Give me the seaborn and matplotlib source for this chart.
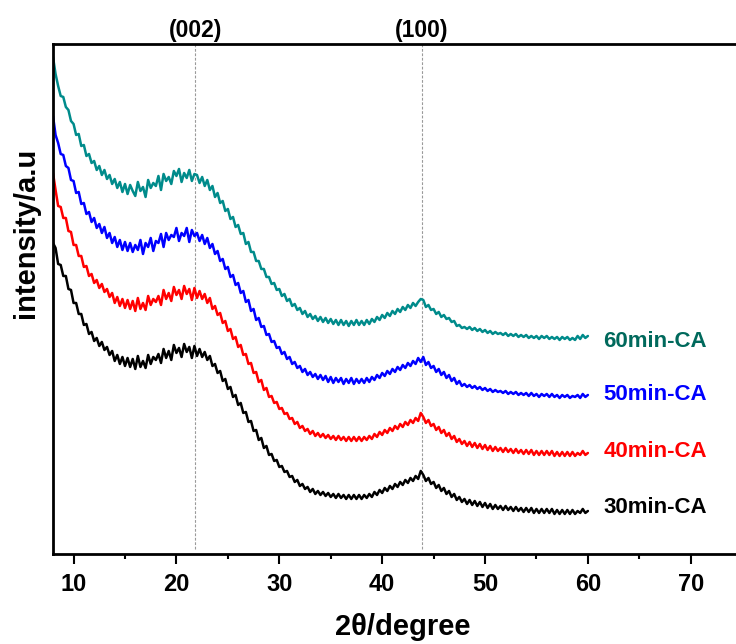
import numpy as np
import pandas as pd
import matplotlib
matplotlib.use("Agg")
import matplotlib.pyplot as plt
import seaborn as sns
from matplotlib.ticker import MultipleLocator

# 2theta grid (degrees), 0.25 step from 8 to 60
two_theta = np.arange(8, 60.001, 0.25)

# intensities (arbitrary units, curves already stacked)
i_60 = [497, 480, 468, 458, 457, 447, 444, 433,
        430, 419, 420, 408, 409, 398, 400, 391,
        393, 384, 388, 379, 384, 375, 379, 370,
        375, 366, 372, 362, 370, 360, 369, 363,
        358, 372, 363, 367, 357, 374, 366, 371,
        368, 378, 364, 380, 373, 377, 370, 383,
        378, 385, 372, 381, 376, 384, 373, 380,
        379, 371, 377, 368, 374, 364, 368, 357,
        361, 351, 353, 343, 345, 335, 337, 327,
        329, 320, 321, 310, 312, 302, 302, 293,
        293, 285, 285, 277, 277, 270, 271, 264,
        265, 258, 260, 253, 255, 248, 250, 244,
        246, 240, 243, 237, 240, 235, 238, 233,
        237, 232, 236, 231, 235, 230, 234, 229,
        234, 229, 233, 228, 233, 229, 234, 229,
        233, 229, 234, 230, 235, 232, 237, 234,
        239, 236, 241, 238, 243, 240, 245, 242,
        247, 244, 249, 246, 251, 248, 252, 255,
        254, 247, 249, 244, 245, 240, 242, 237,
        239, 235, 236, 232, 233, 228, 229, 226,
        227, 225, 227, 224, 226, 223, 225, 222,
        224, 221, 223, 220, 222, 220, 221, 219,
        221, 218, 220, 218, 220, 217, 219, 217,
        219, 216, 218, 216, 218, 215, 218, 216,
        218, 215, 217, 215, 217, 214, 217, 215,
        217, 214, 216, 214, 218, 215, 219, 216,
        218]

i_50 = [438, 419, 411, 400, 399, 388, 386, 374,
        373, 361, 362, 350, 351, 340, 342, 332,
        336, 326, 330, 321, 327, 316, 321, 311,
        317, 307, 314, 304, 312, 303, 311, 302,
        309, 304, 314, 300, 311, 307, 316, 303,
        313, 311, 320, 307, 321, 314, 319, 317,
        326, 313, 321, 318, 326, 312, 324, 318,
        321, 313, 319, 310, 316, 306, 310, 300,
        303, 293, 295, 285, 287, 277, 279, 269,
        271, 261, 263, 252, 254, 243, 245, 234,
        236, 227, 228, 219, 220, 212, 213, 206,
        207, 200, 202, 195, 197, 190, 192, 186,
        188, 182, 185, 179, 182, 177, 180, 175,
        179, 174, 178, 172, 177, 171, 176, 172,
        176, 170, 175, 171, 176, 170, 175, 171,
        175, 171, 176, 172, 177, 174, 179, 176,
        181, 178, 183, 180, 185, 182, 187, 184,
        189, 186, 191, 188, 193, 190, 196, 192,
        197, 189, 192, 186, 188, 182, 185, 179,
        182, 176, 179, 173, 176, 170, 173, 168,
        170, 167, 169, 166, 168, 165, 167, 164,
        166, 163, 165, 162, 164, 162, 163, 161,
        163, 160, 162, 160, 162, 159, 161, 159,
        161, 158, 161, 158, 160, 157, 160, 158,
        160, 157, 160, 157, 159, 156, 159, 157,
        159, 156, 158, 157, 159, 156, 160, 157,
        159]

i_40 = [381, 364, 348, 347, 336, 336, 323, 322,
        309, 309, 298, 298, 287, 288, 278, 280,
        271, 274, 266, 270, 262, 265, 257, 261,
        251, 257, 248, 255, 246, 254, 245, 253,
        243, 256, 245, 251, 244, 258, 249, 255,
        252, 258, 249, 264, 255, 261, 253, 267,
        259, 264, 255, 268, 260, 265, 254, 266,
        256, 263, 255, 260, 251, 256, 245, 248,
        239, 241, 231, 233, 223, 225, 215, 217,
        207, 209, 199, 200, 190, 191, 181, 182,
        172, 174, 164, 166, 157, 158, 151, 152,
        145, 146, 140, 141, 135, 136, 130, 132,
        126, 128, 123, 125, 120, 123, 118, 121,
        117, 120, 116, 119, 115, 118, 114, 118,
        114, 117, 113, 117, 113, 117, 113, 117,
        113, 117, 114, 118, 115, 120, 117, 122,
        119, 124, 121, 126, 123, 128, 125, 130,
        127, 132, 129, 134, 131, 136, 133, 141,
        137, 131, 134, 128, 130, 124, 127, 121,
        124, 118, 121, 115, 118, 112, 115, 110,
        113, 108, 112, 107, 111, 106, 110, 105,
        109, 104, 108, 103, 107, 103, 106, 102,
        106, 102, 105, 101, 105, 101, 104, 100,
        104, 100, 104, 99, 103, 99, 103, 99,
        103, 99, 103, 98, 102, 98, 102, 98,
        102, 98, 102, 98, 101, 99, 103, 99,
        101]

i_30 = [311, 306, 290, 289, 278, 278, 265, 264,
        251, 251, 240, 240, 229, 230, 220, 222,
        213, 216, 208, 212, 204, 207, 199, 203,
        193, 199, 190, 197, 188, 196, 187, 195,
        185, 198, 187, 193, 186, 199, 190, 197,
        194, 200, 191, 205, 196, 203, 194, 209,
        201, 206, 197, 210, 202, 207, 196, 208,
        198, 205, 197, 202, 194, 198, 188, 190,
        181, 183, 173, 175, 165, 167, 157, 159,
        149, 151, 141, 142, 132, 133, 123, 124,
        114, 116, 106, 108, 99, 100, 93, 94,
        87, 88, 82, 83, 77, 78, 72, 74,
        68, 70, 65, 67, 62, 65, 60, 63,
        59, 62, 58, 61, 57, 60, 56, 60,
        56, 59, 55, 59, 55, 59, 55, 59,
        55, 59, 56, 60, 57, 62, 59, 64,
        61, 66, 63, 68, 65, 70, 67, 72,
        69, 74, 71, 76, 73, 78, 75, 83,
        79, 73, 76, 70, 72, 66, 69, 63,
        66, 60, 63, 57, 60, 54, 57, 52,
        55, 50, 54, 49, 53, 48, 52, 47,
        51, 46, 50, 45, 49, 45, 48, 44,
        48, 44, 47, 43, 47, 43, 46, 42,
        46, 42, 46, 41, 45, 41, 45, 41,
        45, 41, 45, 40, 44, 40, 44, 40,
        44, 40, 44, 40, 43, 41, 45, 41,
        43]

samples = ["60min-CA", "50min-CA", "40min-CA", "30min-CA"]
line_colors = ["#008B8B", "#0000FF", "#FF0000", "#000000"]
label_colors = ["#00695C", "#0000FF", "#FF0000", "#000000"]
label_y = [212, 159, 102, 46]
peak_pos = [21.85, 43.85]
peak_names = ["(002)", "(100)"]

df = pd.concat([
    pd.DataFrame({"2theta": two_theta, "intensity": vals, "sample": name})
    for name, vals in zip(samples, [i_60, i_50, i_40, i_30])
])

sns.set_style("ticks")
plt.rcParams["font.family"] = ["Liberation Sans", "DejaVu Sans"]
plt.rcParams["font.weight"] = "bold"
plt.rcParams["text.color"] = "black"
plt.rcParams["axes.labelcolor"] = "black"
plt.rcParams["xtick.color"] = "black"
plt.rcParams["axes.edgecolor"] = "black"

fig = plt.figure(figsize=(7.36, 6.44), dpi=100)
ax = fig.add_axes([0.072, 0.1398, 0.9504, 0.7919])

sns.lineplot(data=df, x="2theta", y="intensity", hue="sample",
             palette=dict(zip(samples, line_colors)), linewidth=1.8,
             estimator=None, sort=False, legend=False, ax=ax)

for xp, name in zip(peak_pos, peak_names):
    ax.axvline(xp, ymin=0.01, ymax=1, color="#9a9a9a", lw=0.8,
               linestyle=(0, (2.5, 1.5)), zorder=0)
    ax.text(xp, 1.003, name, transform=ax.get_xaxis_transform(),
            ha="center", va="bottom", fontsize=16.5, fontweight="bold")

# curve labels next to the end of each trace
for name, yl, col in zip(samples, label_y, label_colors):
    ax.text(61.5, yl, name, color=col, fontsize=16,
            fontweight="bold", ha="left", va="center")

ax.set_xlim(8, 76)
ax.set_ylim(0, 510)
ax.xaxis.set_minor_locator(MultipleLocator(5))
ax.set_xticks([10, 20, 30, 40, 50, 60, 70])
ax.set_yticks([])
ax.tick_params(axis="x", which="major", direction="out", length=7, width=1.5,
               labelsize=17, pad=7)
ax.tick_params(axis="x", which="minor", direction="out", length=3.5, width=1.5)
for lab in ax.get_xticklabels():
    lab.set_fontweight("bold")
for side in ["left", "bottom", "top"]:
    ax.spines[side].set_linewidth(2)
ax.spines["right"].set_visible(False)

ax.set_xlabel("2θ/degree", fontsize=21, fontweight="bold", labelpad=12)
ax.set_ylabel("intensity/a.u", fontsize=21, fontweight="bold")
ax.yaxis.set_label_coords(-0.019, 0.63)

fig.savefig("out.png", dpi=100)
